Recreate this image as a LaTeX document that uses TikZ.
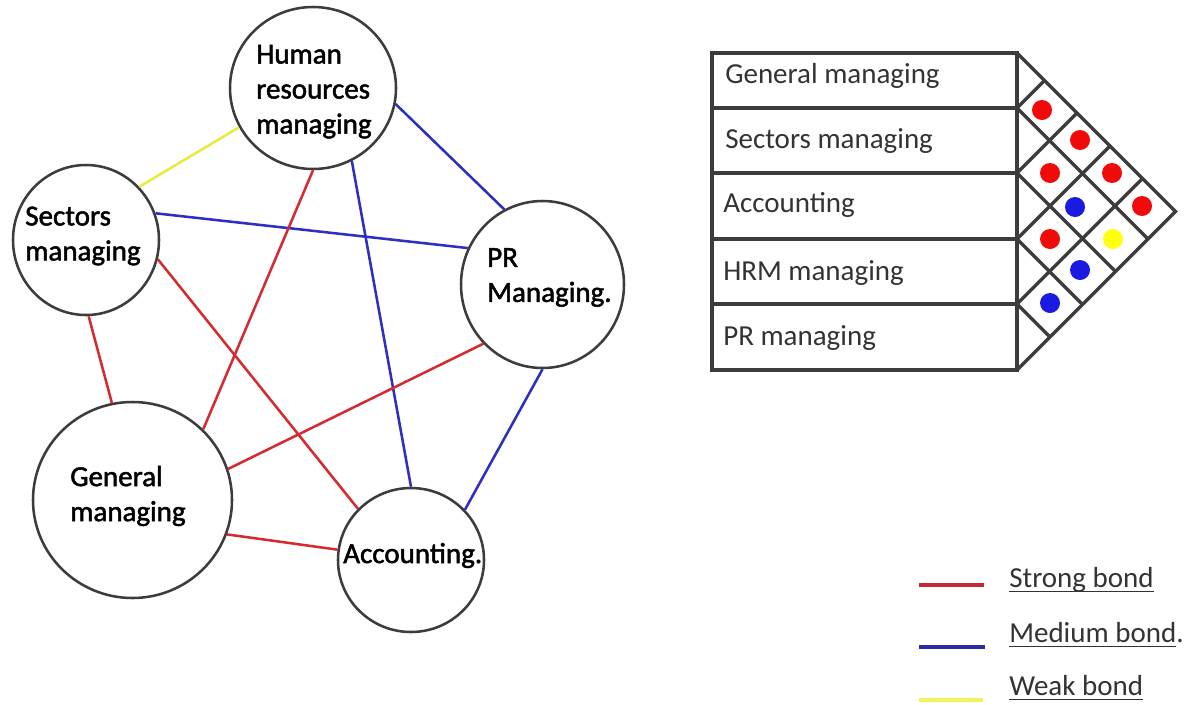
\documentclass[tikz,border=0pt]{standalone}
\usepackage{fontspec}
\setmainfont{Carlito}
\newfontfamily\circfont{Carlito}[FakeBold=1.7]
\usetikzlibrary{shapes.geometric}
\definecolor{edgegray}{HTML}{3C3C3C}
\definecolor{bondred}{HTML}{D42A30}
\definecolor{bondblue}{HTML}{2E2EC0}
\definecolor{bondyellow}{HTML}{EAEA3C}
\definecolor{legred}{HTML}{C42A30}
\definecolor{legblue}{HTML}{2A2AA8}
\definecolor{legyellow}{HTML}{F2F25A}
\definecolor{dotred}{HTML}{F00A0A}
\definecolor{dotblue}{HTML}{1A1AE0}
\definecolor{dotyellow}{HTML}{FFFF10}
\definecolor{txtgray}{HTML}{333333}
\newcommand\ulbox[1]{\setbox0\hbox{#1}\rlap{\rule[-3.9pt]{\wd0}{0.9pt}}\box0}
\begin{document}
\begin{tikzpicture}[x=0.75pt,y=-0.75pt,
  dept/.style={ellipse,draw=edgegray,line width=1.9pt,inner sep=0pt},
  ctext/.style={anchor=west,inner sep=0pt,align=left,font=\circfont\fontsize{21.75}{26.25}\selectfont,text=black},
  ttext/.style={anchor=base west,inner sep=0pt,font=\fontsize{21.75}{26.25}\selectfont,text=txtgray},
  bond/.style={line width=1.9pt},
  strong/.style={bond,draw=bondred},
  medium/.style={bond,draw=bondblue},
  weak/.style={bond,draw=bondyellow},
  tablegrid/.style={draw=edgegray,line width=2.6pt},
  dotmark/.style={circle,inner sep=0pt,minimum size=15pt},
  legline/.style={line width=3pt}]
\fill[white] (0,0) rectangle (1189,704);
\useasboundingbox (0,0) rectangle (1189,704);

% departments
\node[dept,minimum width=124.5pt,minimum height=121.5pt] (hr) at (313,88) {};
\node[dept,minimum width=109.5pt,minimum height=112.5pt] (sec) at (86,240) {};
\node[dept,minimum width=122.25pt,minimum height=125.25pt] (pr) at (542.5,284.5) {};
\node[dept,minimum width=149.25pt,minimum height=147pt] (gen) at (132.5,500) {};
\node[dept,minimum width=109.5pt,minimum height=108pt] (acc) at (411,560) {};

% bonds
\draw[weak] (sec.45.6) -- (hr.208.7);
\draw[medium] (hr.-11.6) -- (pr.117.6);
\draw[medium] (sec.21.5) -- (pr.154.2);
\draw[strong] (hr.-90) -- (gen.45.6);
\draw[medium] (hr.-62) -- (acc.90.8);
\draw[strong] (sec.-15.7) -- (acc.136.7);
\draw[strong] (sec.-88.5) -- (gen.102.9);
\draw[strong] (pr.225.9) -- (gen.18.3);
\draw[medium] (pr.270) -- (acc.43.9);
\draw[strong] (gen.-20.7) -- (acc.172.2);

% texts in circles
\node[ctext] (hrt) at (256,91.7) {Human\\resources\\managing};
\node[ctext] (sect) at (25,236) {Sectors\\managing};
\node[ctext] (prt) at (487,277.5) {PR\\Managing.};
\node[ctext] (gent) at (70,496) {General\\managing};
\node[ctext] (acct) at (343,555.5) {Accounting.};

% table
\draw[tablegrid] (712,53) rectangle (1017,370);
\foreach \yy in {108,173,239,304} {
  \draw[tablegrid] (712,\yy) -- (1017,\yy);
  \draw[tablegrid] (1017,\yy) -- ++({(370-\yy)/2},{(370-\yy)/2});
  \draw[tablegrid] (1017,\yy) -- ++({(\yy-53)/2},{-(\yy-53)/2});
}
\draw[tablegrid] (1017,53) -- (1175.5,211.5) -- (1017,370);

\node[ttext] (r1) at (725,83) {General managing};
\node[ttext] (r2) at (725,148) {Sectors managing};
\node[ttext] (r3) at (723,212) {Accounting};
\node[ttext] (r4) at (723,280) {HRM managing};
\node[ttext] (r5) at (723,345) {PR managing};

% dots
\node[dotmark,fill=dotred] (d1) at (1042,110) {};
\node[dotmark,fill=dotred] (d2) at (1080,140) {};
\node[dotmark,fill=dotred] (d3) at (1050,173) {};
\node[dotmark,fill=dotred] (d4) at (1112,173) {};
\node[dotmark,fill=dotblue] (d5) at (1075,207) {};
\node[dotmark,fill=dotred] (d6) at (1142,206) {};
\node[dotmark,fill=dotred] (d7) at (1050,239) {};
\node[dotmark,fill=dotyellow] (d8) at (1113,239) {};
\node[dotmark,fill=dotblue] (d9) at (1080,270) {};
\node[dotmark,fill=dotblue] (d10) at (1050,303) {};

% legend
\coordinate (ls1) at (919,585); \coordinate (le1) at (984,585);
\coordinate (ls2) at (919,647); \coordinate (le2) at (985,647);
\coordinate (ls3) at (919,700); \coordinate (le3) at (983,700);
\draw[legline,draw=legred] (ls1) -- (le1);
\draw[legline,draw=legblue] (ls2) -- (le2);
\draw[legline,draw=legyellow] (ls3) -- (le3);
\node[ttext] (l1) at (1009,587) {\ulbox{Strong bond}};
\node[ttext] (l2) at (1009,642) {\ulbox{Medium bond}.};
\node[ttext] (l3) at (1009,695) {\ulbox{Weak bond}};
\end{tikzpicture}
\end{document}
